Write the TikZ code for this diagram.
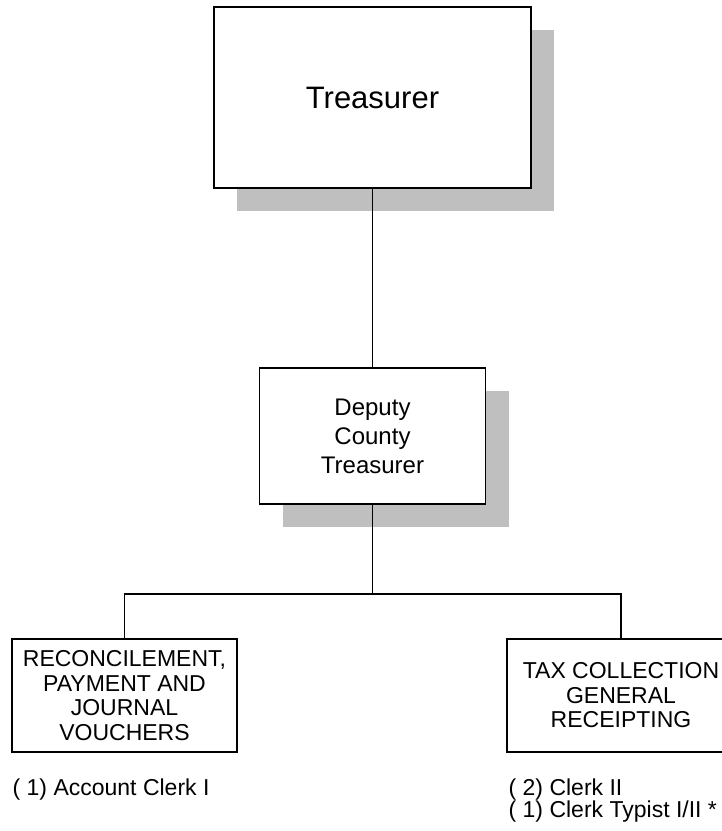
\documentclass[tikz,border=0pt]{standalone}
\usepackage{fontspec}
\setmainfont{Liberation Sans}
\usetikzlibrary{shadows}
\newcommand{\postfont}{\fontsize{23}{24.5}\selectfont}
\tikzstyle{post}=[draw, fill=white, inner sep=0, align=center, font=\postfont]
\tikzstyle{spost}=[post, general shadow={fill=black!25, shadow xshift=23pt, shadow yshift=-23pt}]
\tikzstyle{staff}=[anchor=base west, inner sep=0, font=\postfont]
\tikzstyle{orgchart}=[x=1pt, y=-1pt, line width=1.3pt,
                      % Page is the reference size in px.
                      execute at begin picture={\useasboundingbox (0,0) rectangle (722,831);}]

\begin{document}
\begin{tikzpicture}[orgchart]
        \clip (0,0) rectangle (722,831);
        \node[spost, minimum width=317pt, minimum height=181pt, font=\fontsize{31}{36}\selectfont] (T) at (372.5, 97.5) {Treasurer};
        \node[spost, minimum width=226pt, minimum height=136pt, font=\fontsize{24}{29}\selectfont] (D) at (372.5, 436) {Deputy\\County\\Treasurer};
        \node[post, minimum width=225pt, minimum height=113pt] (RPJ) at (124.5, 695.5) {RECONCILEMENT,\\PAYMENT AND\\JOURNAL\\VOUCHERS};
        \node[post, minimum width=228pt, minimum height=113pt] (TCR) at (621, 695.5) {TAX COLLECTION\\GENERAL\\RECEIPTING};
        \coordinate (bus) at (372.5, 594);
        \draw (T) -- (D);
        \draw (D) -- (bus);
        \draw (RPJ.north) |- (bus) -| (TCR.north);
        \node[staff] (RPJstaff) at (12, 795) {( 1) Account Clerk I};
        \node[staff] (TCRstaff1) at (508, 795) {( 2) Clerk II};
        \node[staff] (TCRstaff2) at (508, 817) {( 1) Clerk Typist I/II *};
    \end{tikzpicture}
\end{document}
